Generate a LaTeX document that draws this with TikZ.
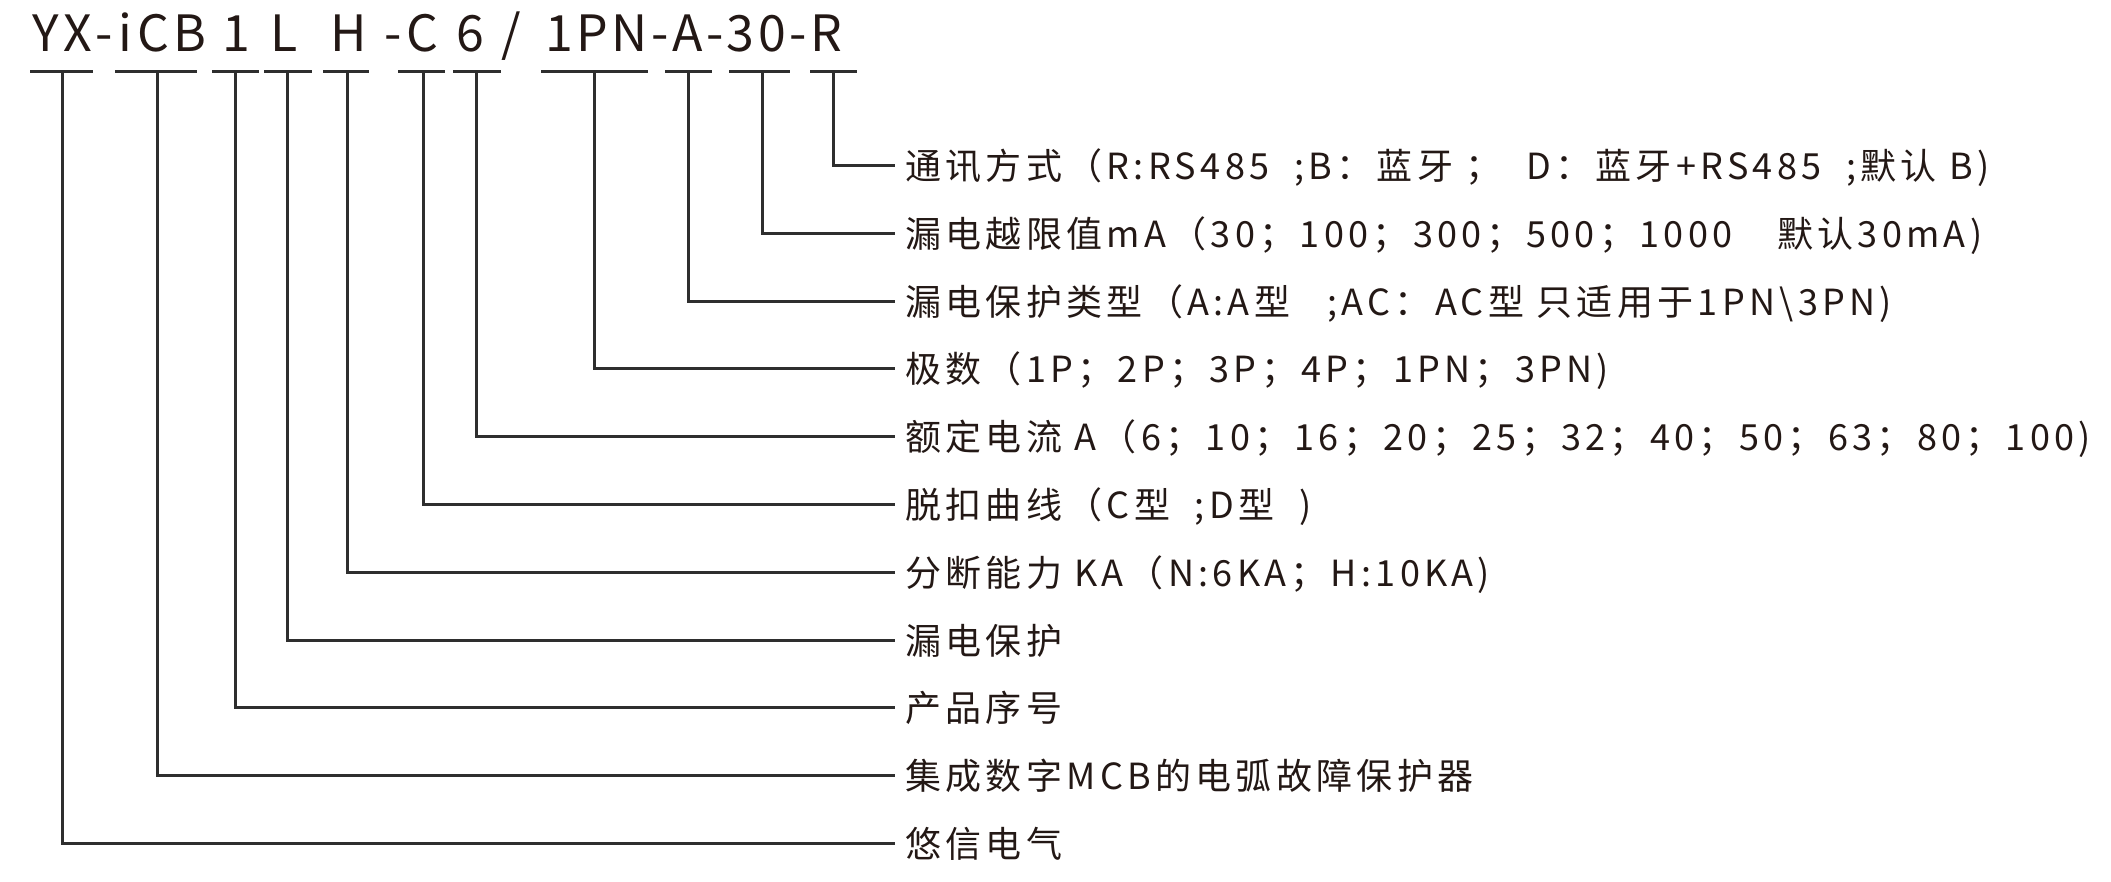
\documentclass[tikz,border=0pt]{standalone}
\usepackage{fontspec}
\setmainfont{Noto Sans CJK SC}
\definecolor{txt}{HTML}{231815}
\definecolor{ln}{HTML}{2E2E2E}
\newcommand\mkbranch[6]{%
  \coordinate (ba#1) at (#2,72);
  \coordinate (bb#1) at (#3,72);
  \coordinate (bv#1) at (#4,72);
  \node[lbl] (l#1) at (895,#5) {#6};
  \draw[bar] (ba#1) -- (bb#1);
  \draw[bar] (bv#1) |- (l#1.west);
}
\begin{document}
\begin{tikzpicture}[x=1pt,y=-1pt,
  hdr/.style={font=\fontsize{50}{50}\selectfont\addfontfeature{LetterSpace=10}, text=txt, inner sep=0pt, anchor=base west},
  lbl/.style={font=\fontsize{36}{36}\selectfont\addfontfeature{LetterSpace=12}, text=txt, inner xsep=10pt, inner ysep=0pt, text height=32pt, text depth=4pt, anchor=west},
  bar/.style={draw=ln, line width=3pt}]
\useasboundingbox (0,0) rectangle (2111,882);
% header
\node[hdr] (h1) at (32,52) {YX-iCB};
\node[hdr] (h2) at (222,52) {1};
\node[hdr] (h3) at (270,52) {L};
\node[hdr] (h4) at (330,52) {H};
\node[hdr] (h5) at (384,52) {-C};
\node[hdr] (h6) at (456,52) {6};
\node[hdr] (h7) at (501,52) {/};
\node[hdr, font=\fontsize{50}{50}\selectfont\addfontfeature{LetterSpace=7}] (h8) at (545,52) {1PN-A-30-R};
% branches
\mkbranch{1}{810}{857}{833}{165.5}{通讯方式（R:RS485\ \ ;B：蓝牙\ ；\ \ D：蓝牙+RS485\ \ ;默认 B)}
\mkbranch{2}{729}{790}{762}{233.3}{漏电越限值mA（30；100；300；500；1000　默认30mA)}
\mkbranch{3}{665}{712}{688}{301.1}{漏电保护类型（A:A型\ \ \ ;AC：AC型\ 只适用于1PN\textbackslash 3PN)}
\mkbranch{4}{541}{648}{594}{368.9}{极数（1P；2P；3P；4P；1PN；3PN)}
\mkbranch{5}{453}{501}{476}{436.7}{额定电流 A（6；10；16；20；25；32；40；50；63；80；100)}
\mkbranch{6}{398}{445}{423}{504.5}{脱扣曲线（C型\ \ ;D型\ \ )}
\mkbranch{7}{323}{369}{347}{572.3}{分断能力 KA（N:6KA；H:10KA)}
\mkbranch{8}{264}{312}{287}{640.1}{漏电保护}
\mkbranch{9}{212}{259}{235}{707.9}{产品序号}
\mkbranch{10}{115}{197}{157}{775.7}{集成数字MCB的电弧故障保护器}
\mkbranch{11}{30}{93}{62}{843.5}{悠信电气}
\end{tikzpicture}
\end{document}
